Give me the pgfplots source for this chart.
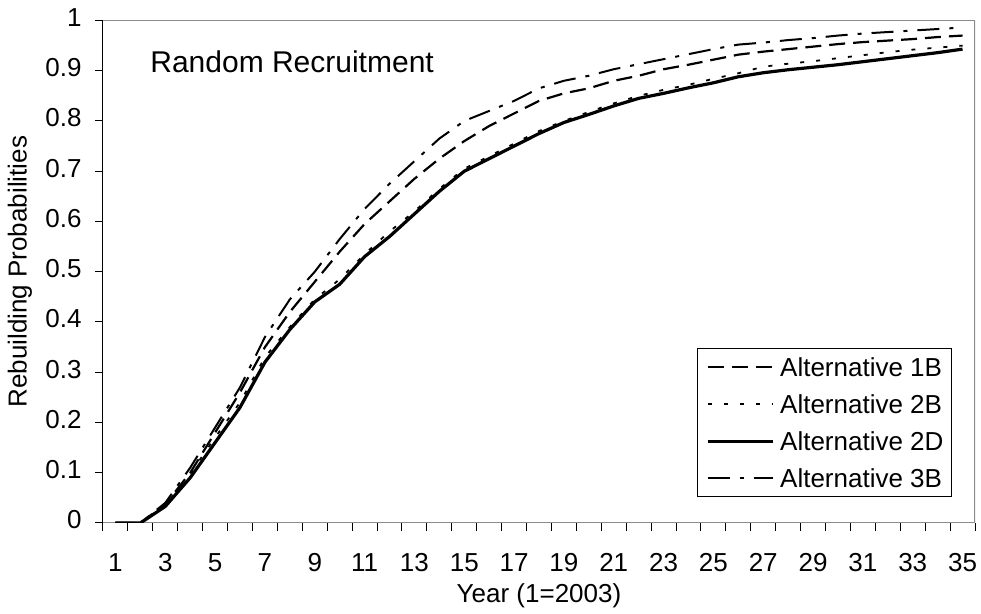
\documentclass[border=0pt]{standalone}
\usepackage{fontspec}
\setmainfont{Liberation Sans}
\usepackage{pgfplots}
\pgfplotsset{compat=1.18}
\usepackage{pgfplotstable}
\definecolor{framegray}{RGB}{140,140,140}

\pgfplotstableread{
x a1B a2B a2D a3B
1 0 0 0 0
2 0 0 0 0
3 0.037 0.035 0.033 0.04
4 0.10 0.098 0.09 0.11
5 0.18 0.17 0.16 0.19
6 0.26 0.24 0.23 0.27
7 0.35 0.33 0.32 0.37
8 0.42 0.39 0.385 0.445
9 0.48 0.445 0.44 0.50
10 0.54 0.485 0.475 0.565
11 0.595 0.535 0.53 0.625
12 0.64 0.58 0.57 0.675
13 0.685 0.62 0.615 0.72
14 0.725 0.665 0.66 0.765
15 0.76 0.705 0.70 0.80
16 0.79 0.73 0.725 0.82
17 0.815 0.755 0.75 0.84
18 0.84 0.78 0.775 0.865
19 0.855 0.80 0.797 0.88
20 0.865 0.818 0.813 0.89
21 0.88 0.835 0.83 0.903
22 0.89 0.85 0.845 0.913
23 0.903 0.862 0.855 0.923
24 0.912 0.872 0.866 0.933
25 0.922 0.884 0.876 0.943
26 0.932 0.895 0.888 0.952
27 0.938 0.908 0.896 0.956
28 0.943 0.914 0.902 0.961
29 0.948 0.919 0.907 0.965
30 0.953 0.925 0.912 0.97
31 0.957 0.931 0.918 0.974
32 0.96 0.937 0.924 0.977
33 0.963 0.942 0.93 0.98
34 0.967 0.946 0.936 0.983
35 0.97 0.95 0.943 0.986
}\data

\begin{document}
\begin{tikzpicture}
\useasboundingbox (-51.5pt,-45.5pt) rectangle (439pt,261.5pt);
\begin{axis}[
  at={(0,0)}, anchor=south west,
  scale only axis, width=436pt, height=251.25pt,
  xmin=0.5, xmax=35.5, ymin=0, ymax=1,
  axis x line*=bottom, axis y line*=left,
  axis line style={line width=0.5pt, black},
  xtick={1,3,...,35},
  minor xtick={0.5,1.5,...,35.5},
  ytick={0,0.1,0.2,0.3,0.4,0.5,0.6,0.7,0.8,0.9,1},
  minor ytick={0,0.1,0.2,0.3,0.4,0.5,0.6,0.7,0.8,0.9,1},
  major tick length=0pt, minor tick length=4pt,
  tick align=outside,
  tick style={line width=0.5pt, black},
  /pgf/number format/assume math mode=true,
  tick label style={font=\fontsize{13}{15}\selectfont, inner sep=0pt},
  yticklabel style={anchor=east, xshift=-10.5pt},
  xticklabel style={anchor=base, yshift=-24.15pt},
  typeset ticklabels with strut=false,
  xlabel={Year (1=2003)},
  ylabel={Rebuilding Probabilities},
  label style={font=\fontsize{13}{15}\selectfont},
  xlabel style={at={(axis description cs:0.5,0)}, anchor=center, yshift=-36.5pt},
  ylabel style={at={(axis description cs:-0.0952,0.5)}, anchor=center},
  legend image code/.code={\path (0pt,0pt); \draw[#1] (0pt,4.65pt) -- (32.5pt,4.65pt);},
  legend style={at={(rel axis cs:0.9736,0.0515)}, anchor=south east,
    draw=black, line width=0.5pt, inner xsep=4pt, inner ysep=0pt,
    column sep=3pt, row sep=0pt,
    font=\fontsize{13}{15}\selectfont,
    nodes={inner sep=0pt, text height=13.9pt, text depth=4.6pt, anchor=base west}},
  legend cell align=left,
]
\draw[framegray, line width=1pt] (rel axis cs:0,1) -- (rel axis cs:1,1) -- (rel axis cs:1,0) -- (rel axis cs:0,0);
\addplot[black, line width=1.1pt, dash pattern=on 8pt off 4pt] table[x=x, y=a1B] {\data};
\addlegendentry{Alternative 1B}
\addplot[black, line width=0.9pt, dash pattern=on 2pt off 6pt] table[x=x, y=a2B] {\data};
\addlegendentry{Alternative 2B}
\addplot[black, line width=1.6pt] table[x=x, y=a2D] {\data};
\addlegendentry{Alternative 2D}
\addplot[black, line width=1pt, dash pattern=on 11pt off 5pt on 2pt off 5pt] table[x=x, y=a3B] {\data};
\addlegendentry{Alternative 3B}
\node[anchor=base west, inner sep=0pt, font=\fontsize{15}{18}\selectfont] at (rel axis cs:0.0539,0.8956) {Random Recruitment};
\end{axis}
\end{tikzpicture}
\end{document}
